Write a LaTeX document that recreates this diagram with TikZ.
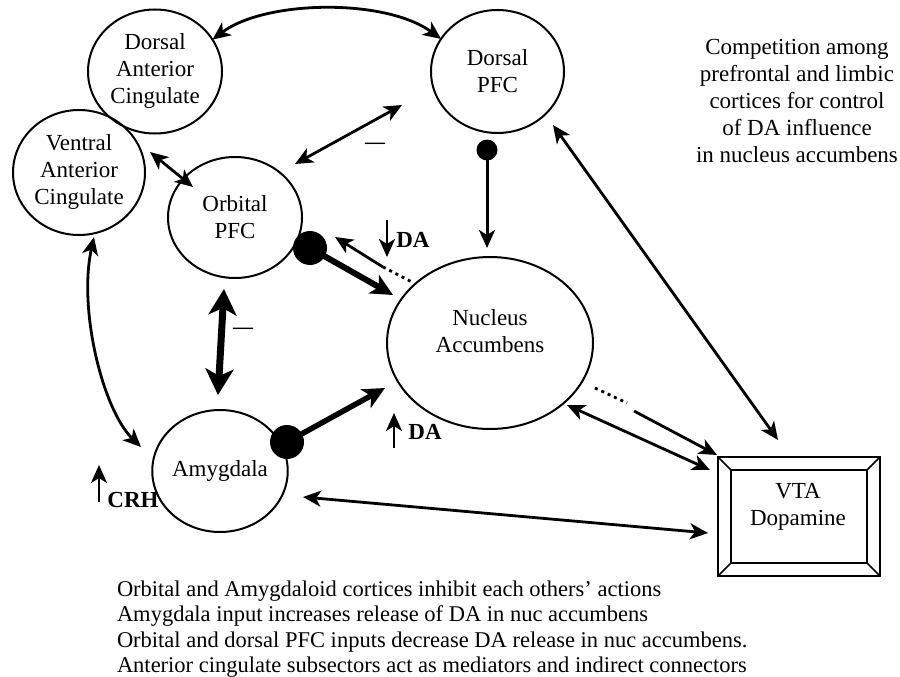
\documentclass[tikz,border=0pt]{standalone}
\usepackage{fontspec}
\setmainfont{Liberation Serif}
\usetikzlibrary{arrows.meta,shapes.geometric,calc}
\begin{document}
\begin{tikzpicture}[x=1pt,y=-1pt,
  every node/.style={inner sep=0pt, outer sep=0pt},
  txt/.style={font=\fontsize{23}{27}\selectfont, align=center},
  btxt/.style={font=\fontsize{23}{27}\selectfont\bfseries},
  sumtxt/.style={font=\fontsize{22.5}{26}\selectfont, anchor=base west},
  minus/.style={font=\fontsize{20}{20}\selectfont\bfseries},
  region/.style={ellipse, draw, line width=2pt, txt},
  link/.style={line width=2.8pt, >={Stealth[length=18pt,width=16pt,inset=5pt]}},
  heavy/.style={line width=7pt, >={Stealth[length=26pt,width=28pt,inset=7pt]}},
  medium/.style={line width=5.5pt, >={Stealth[length=22pt,width=21pt,inset=6pt]}},
  dotlink/.style={line width=2.8pt, dash pattern=on 3pt off 4pt},
  boxline/.style={line width=1.6pt},
]
\useasboundingbox (0,0) rectangle (900,677);

% regions
\node[region, minimum width=134pt, minimum height=124pt] (dac) at (155,71.5) {Dorsal\\Anterior\\Cingulate};
\node[region, minimum width=132pt, minimum height=125pt] (vac) at (79,172.5) {Ventral\\Anterior\\Cingulate};
\node[region, minimum width=133pt, minimum height=123pt] (dpfc) at (497.5,71.5) {Dorsal\\PFC};
\node[region, minimum width=134pt, minimum height=121pt] (opfc) at (235,217.5) {Orbital\\PFC};
\node[region, minimum width=206pt, minimum height=172pt] (nac) at (490,343) {};
\node[txt] (nactext) at (490,331) {Nucleus\\Accumbens};
\node[region, minimum width=134pt, minimum height=122pt] (amy) at (220,471) {Amygdala};

% VTA box
\node[draw, boxline, minimum width=162pt, minimum height=119pt] (vta) at (799,516.5) {};
\coordinate (vin1) at ($(vta.north west)+(13,13)$);
\coordinate (vin2) at ($(vta.north east)+(-13,13)$);
\coordinate (vin3) at ($(vta.south east)+(-13,-13)$);
\coordinate (vin4) at ($(vta.south west)+(13,-13)$);
\draw[boxline] (vin1) -- (vin2) -- (vin3) -- (vin4) -- cycle;
\draw[boxline] (vta.north west) -- (vin1) (vta.north east) -- (vin2)
  (vta.south east) -- (vin3) (vta.south west) -- (vin4);
\node[txt] (vtatext) at (798,507) {VTA\\Dopamine};

% free ends of connectors
\coordinate (dpo1) at (402,105);  \coordinate (dpo2) at (295,164);
\coordinate (vo1) at (150,152);   \coordinate (vo2) at (193,187);
\coordinate (va1) at (94,237);    \coordinate (va2) at (141,447);
\coordinate (oa1) at (224,289);   \coordinate (oa2) at (218,395);
\coordinate (odot) at (310,248);  \coordinate (on1) at (393,295);
\coordinate (no1) at (383,267);   \coordinate (no2) at (335,237);
\coordinate (no3) at (412,282);
\coordinate (ddot) at (487,150);  \coordinate (dn1) at (487,248);
\coordinate (adot) at (287,442);  \coordinate (an1) at (385,388);
\coordinate (nv1) at (567,405);   \coordinate (nv2) at (710,470);
\coordinate (nvd1) at (595,388);  \coordinate (nvd2) at (627,403);
\coordinate (nvs1) at (634,411);  \coordinate (nvs2) at (717,455);
\coordinate (dv1) at (553,125);   \coordinate (dv2) at (778,440);
\coordinate (av1) at (303,497);   \coordinate (av2) at (708,533);
\coordinate (da1s) at (387,220);  \coordinate (da1e) at (387,257);
\coordinate (da2s) at (394,448);  \coordinate (da2e) at (394,413);
\coordinate (crhs) at (99,502);   \coordinate (crhe) at (99,465);

% connectors
\draw[link,<->] (dac.29) .. controls (265,0) and (385,-2) .. (dpfc.150);
\draw[link,<->] (dpo1) -- (dpo2);
\draw[link,<->] (vo1) -- (vo2);
\draw[link,<->] (va1) .. controls (78,310) and (103,410) .. (va2);
\draw[heavy,<->] (oa1) -- (oa2);
\fill (odot) circle (17);
\draw[medium,line width=6pt,->] (odot) -- (on1);
\draw[link,->] (no1) -- (no2);
\draw[dotlink] (no1) -- (no3);
\fill (ddot) circle (10.5);
\draw[link,line width=3pt,->] (ddot) -- (dn1);
\fill (adot) circle (17);
\draw[medium,->] (adot) -- (an1);
\draw[link,<->] (nv1) -- (nv2);
\draw[dotlink] (nvd1) -- (nvd2);
\draw[link,->] (nvs1) -- (nvs2);
\draw[link,<->] (dv1) -- (dv2);
\draw[link,<->] (av1) -- (av2);
\draw[link,->] (da1s) -- (da1e);
\draw[link,->] (da2s) -- (da2e);
\draw[link,->] (crhs) -- (crhe);

% labels
\node[btxt] (da1) at (413,240) {DA};
\node[btxt] (da2) at (425,432) {DA};
\node[btxt] (crh) at (133,500) {CRH};
\node[minus] (minus1) at (375,146) {—};
\node[minus] (minus2) at (243,331) {—};

\node[txt] (note) at (797,101) {Competition among\\prefrontal and limbic\\cortices for control\\of DA influence\\in nucleus accumbens};

\node[sumtxt] (s1) at (117,596) {Orbital and Amygdaloid cortices inhibit each others’ actions};
\node[sumtxt] (s2) at (117,621.5) {Amygdala input increases release of DA in nuc accumbens};
\node[sumtxt] (s3) at (117,647) {Orbital and dorsal PFC inputs decrease DA release in nuc accumbens.};
\node[sumtxt] (s4) at (117,672.5) {Anterior cingulate subsectors act as mediators and indirect connectors};
\end{tikzpicture}
\end{document}
